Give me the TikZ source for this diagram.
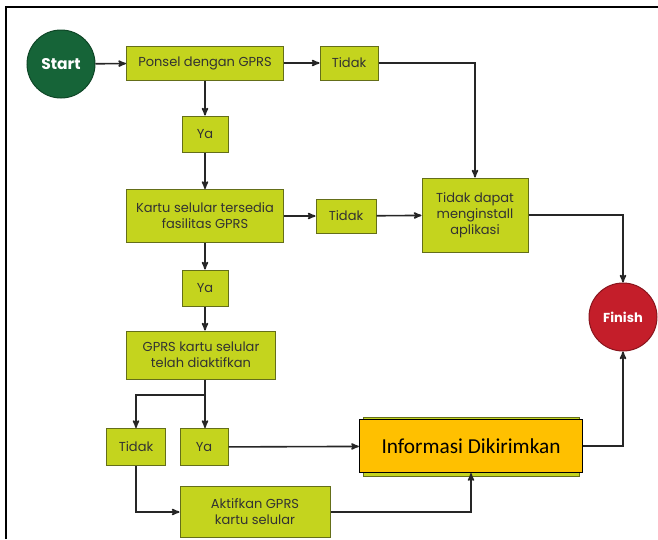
\documentclass[tikz,border=0pt]{standalone}
\usepackage{fontspec}
\usepackage{tikz}
\usetikzlibrary{arrows,shapes.geometric,shapes.misc}
\setmainfont{Poppins}
\newfontfamily\boxfont{Carlito}
\definecolor{lime}{RGB}{196,212,30}
\definecolor{limeline}{RGB}{100,110,25}
\definecolor{startgreen}{RGB}{22,100,56}
\definecolor{finishred}{RGB}{196,30,42}
\definecolor{infoorange}{RGB}{255,192,0}
\definecolor{textgray}{RGB}{50,50,50}
\tikzset{
	stepbox/.style={
		% The shape:
		rectangle,inner sep=2pt,align=center,
		% The border:
		draw=limeline,line width=1pt,
		% The filling:
		fill=lime,
		text=textgray,font=\fontsize{13}{16}\selectfont,
	}}
\tikzset{
	endpoint/.style={
		% The shape:
		circle,minimum size=68pt,inner sep=0pt,
		% The border:
		line width=1pt,
		text=white,font=\bfseries\fontsize{15.5}{18}\selectfont,
	}}
\tikzset{
	flow/.style={->,>=stealth',line width=1.6pt,draw=black!85}
}

\begin{document}
\begin{tikzpicture}[x=1pt,y=-1pt]
	\useasboundingbox (0,0) rectangle (658,539);
	% frame
	\draw[line width=2pt] (6,539) -- (6,7) -- (658,7);
	% left column
	\node[endpoint,fill=startgreen,draw=startgreen!70!black] (start) at (61,64) {Start};
	\node[stepbox,minimum width=157pt,minimum height=34pt] (ponsel) at (205,63) {Ponsel dengan GPRS};
	\node[stepbox,minimum width=58pt,minimum height=34pt] (tidak1) at (349,63) {Tidak};
	\node[stepbox,minimum width=46pt,minimum height=36pt] (ya1) at (205,134) {Ya};
	\node[stepbox,minimum width=157pt,minimum height=53pt] (kartu) at (205,216) {Kartu selular tersedia\\fasilitas GPRS};
	\node[stepbox,minimum width=60pt,minimum height=34pt] (tidak2) at (346,216) {Tidak};
	\node[stepbox,minimum width=106pt,minimum height=74pt] (gagal) at (475,215) {Tidak dapat\\menginstall\\aplikasi};
	\node[stepbox,minimum width=46pt,minimum height=36pt] (ya2) at (205,288) {Ya};
	\node[stepbox,minimum width=149pt,minimum height=48pt] (aktif) at (201,355) {GPRS kartu selular\\telah diaktifkan};
	\node[stepbox,minimum width=59pt,minimum height=37pt] (tidak3) at (136,447) {Tidak};
	\node[stepbox,minimum width=48pt,minimum height=37pt] (ya3) at (204,447) {Ya};
	\node[stepbox,minimum width=150pt,minimum height=51pt] (aktifkan) at (255,512) {Aktifkan GPRS\\kartu selular};
	% old box under the new one
	\draw[limeline,fill=lime,line width=1pt] (363,417) rectangle (579,476);
	\node[rectangle,draw=black,line width=1.3pt,fill=infoorange,minimum width=223pt,minimum height=53pt,font=\boxfont\fontsize{21.3}{25}\selectfont] (info) at (471,446) {Informasi Dikirimkan};
	\node[endpoint,fill=finishred,draw=finishred!70!black,font=\bfseries\fontsize{13}{15}\selectfont] (finish) at (623,317) {Finish};
	% connectors
	\draw[flow] (start) -- (ponsel);
	\draw[flow] (ponsel) -- (tidak1);
	\draw[flow] (tidak1.east) -| (gagal.north);
	\draw[flow] (ponsel) -- (ya1);
	\draw[flow] (ya1) -- (kartu);
	\draw[flow] (kartu) -- (tidak2);
	\draw[flow] (tidak2) -- (gagal);
	\draw[flow] (gagal.east) -| (finish.north);
	\draw[flow] (kartu) -- (ya2);
	\draw[flow] (ya2) -- (ya2 |- aktif.north);
	\coordinate (split) at (205,395);
	\draw[line width=1.6pt,draw=black!85] (aktif.south -| split) -- (split);
	\draw[flow] (split) -| (tidak3.north);
	\draw[flow] (split) -- (split |- ya3.north);
	\draw[flow] (tidak3.south) |- (aktifkan.west);
	\draw[flow] (ya3) -- (info);
	\draw[flow] (aktifkan.east) -| (info.south);
	\draw[flow] (info.east) -| (finish.south);
\end{tikzpicture}
\end{document}
